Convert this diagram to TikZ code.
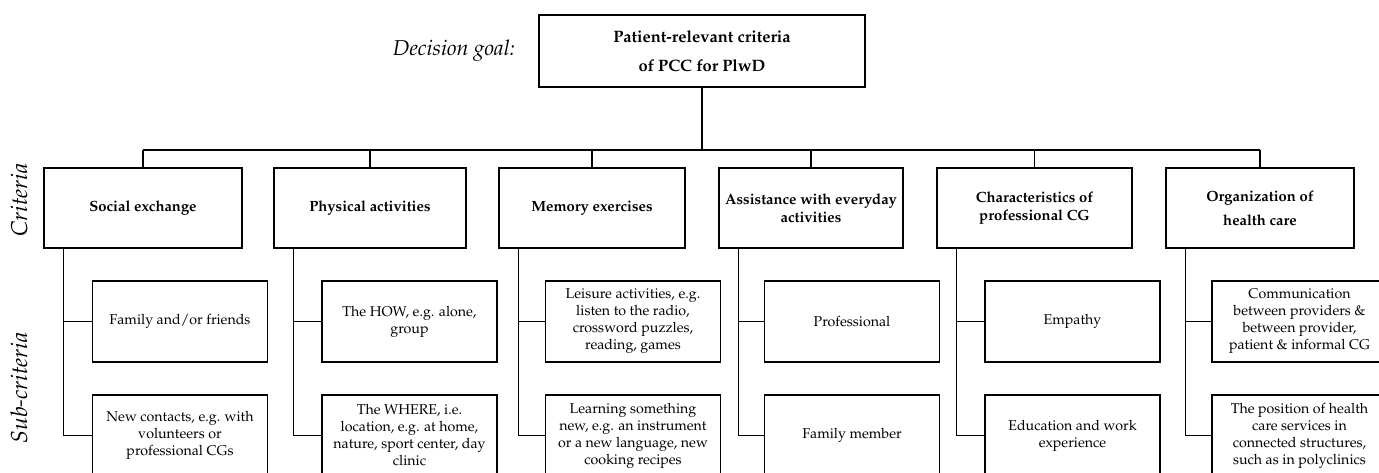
\documentclass[tikz,border=0pt]{standalone}
\usepackage[T1]{fontenc}
\usepackage{mathpazo}
\begin{document}
\begin{tikzpicture}[x=1pt, y=-1pt, line width=1.1pt,
  box/.style={draw, rectangle, inner sep=0pt, align=center, line width=1.1pt},
  goalbox/.style={box, minimum width=326pt, minimum height=72pt,
    font=\fontsize{16.5}{29}\selectfont\bfseries},
  critbox/.style={box, minimum height=80pt,
    font=\fontsize{14.8}{18}\selectfont\bfseries},
  subbox/.style={box, minimum width=175pt, minimum height=81pt,
    font=\fontsize{14.2}{17}\selectfont},
  levellabel/.style={font=\fontsize{23}{26}\selectfont\itshape},
  link/.style={line width=1.1pt}]

\useasboundingbox (0,0) rectangle (1379,472);
\clip (0,0) rectangle (1379,472);

% decision goal
\node[levellabel, anchor=east, font=\fontsize{21.5}{24}\selectfont\itshape] (goallabel) at (519,51) {Decision goal:};
\node[goalbox] (goal) at (702,51) {Patient-relevant criteria\\of PCC for PlwD};

% level labels
\node[levellabel, rotate=90] (critlabel) at (19,200) {Criteria};
\node[levellabel, rotate=90] (sublabel) at (19,388) {Sub-criteria};

% criteria
\node[critbox, minimum width=198pt] (c1) at (143,208) {Social exchange};
\node[critbox, minimum width=192pt] (c2) at (370,208) {Physical activities};
\node[critbox, minimum width=186pt] (c3) at (592,208) {Memory exercises};
\node[critbox, minimum width=184pt] (c4) at (811,208) {Assistance with everyday\\activities};
\node[critbox, minimum width=195pt] (c5) at (1034.5,208) {Characteristics of\\professional CG};
\node[critbox, minimum width=188pt, font=\fontsize{14.8}{24}\selectfont\bfseries] (c6) at (1260,208) {Organization of\\health care};

% sub-criteria, first row
\node[subbox] (s1a) at (180,321.5) {Family and/or friends};
\node[subbox] (s2a) at (409.5,321.5) {The HOW, e.g. alone,\\group};
\node[subbox] (s3a) at (633,321.5) {Leisure activities, e.g.\\listen to the radio,\\crossword puzzles,\\reading, games};
\node[subbox] (s4a) at (852,321.5) {Professional};
\node[subbox] (s5a) at (1072.5,321.5) {Empathy};
\node[subbox] (s6a) at (1299.5,321.5) {Communication\\between providers \&\\between provider,\\patient \& informal CG};

% sub-criteria, second row
\node[subbox] (s1b) at (180,435.5) {New contacts, e.g. with\\volunteers or\\professional CGs};
\node[subbox] (s2b) at (409.5,435.5) {The WHERE, i.e.\\location, e.g. at home,\\nature, sport center, day\\clinic};
\node[subbox] (s3b) at (633,435.5) {Learning something\\new, e.g. an instrument\\or a new language, new\\cooking recipes};
\node[subbox] (s4b) at (852,435.5) {Family member};
\node[subbox] (s5b) at (1072.5,435.5) {Education and work\\experience};
\node[subbox] (s6b) at (1299.5,435.5) {The position of health\\care services in\\connected structures,\\such as in polyclinics};

% goal to criteria
\coordinate (bus) at (702,150);
\draw[link] (goal.south) -- (goal.south |- bus);
\draw[link] (c1.north |- bus) -- (c6.north |- bus);
\foreach \c in {c1,c2,c3,c4,c5,c6}
  \draw[link] (\c.north |- bus) -- (\c.north);

% criteria to sub-criteria
\foreach \c in {1,...,6}{
  \draw[link] ([xshift=20pt]c\c.south west) |- (s\c a.west);
  \draw[link] ([xshift=20pt]c\c.south west) |- (s\c b.west);
}
\end{tikzpicture}
\end{document}
